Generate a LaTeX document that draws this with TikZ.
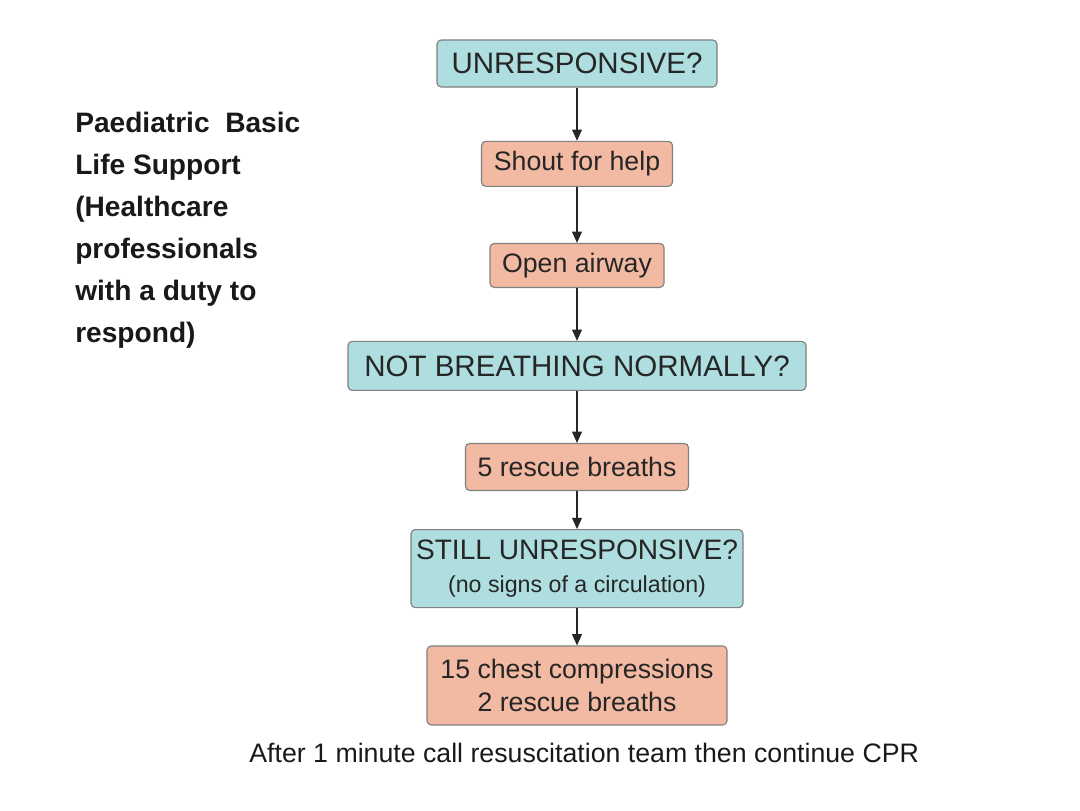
\documentclass[tikz,border=0pt]{standalone}
\usepackage{fontspec}
\setmainfont{Liberation Sans}
\usepackage{tikz}
\usetikzlibrary{arrows.meta, positioning}

\definecolor{qcyan}{HTML}{AEDEDF}
\definecolor{actsalmon}{HTML}{F2BAA2}
\definecolor{edgegray}{HTML}{808080}

\begin{document}
\begin{tikzpicture}[
    % Define styles for the nodes
    base_node/.style={rectangle, draw=edgegray, line width=0.8pt, align=center, rounded corners=3pt, inner sep=0pt, text=black!85},
    question_node/.style={base_node, fill=qcyan, font=\fontsize{21}{25}\selectfont},
    action_node/.style={base_node, fill=actsalmon, font=\fontsize{19}{23}\selectfont},
    note_node/.style={rectangle, inner sep=0pt, text=black!90},
    % Styles for arrows
    arrow/.style={-{Triangle[length=8pt, width=7pt]}, line width=0.8pt, black!85}
]
    % fix the page to the reference proportions
    \useasboundingbox (0,0) rectangle (27,-20.25);

    % =========================================================================
    % TITLE (left)
    % =========================================================================
    \node (title) [note_node, anchor=west, align=left, font=\bfseries\fontsize{20}{29.9}\selectfont] at (1.875,-5.75)
        {Paediatric\ \ Basic\\Life Support\\(Healthcare\\professionals\\with a duty to\\respond)};

    % =========================================================================
    % MAIN FLOW (Vertical)
    % =========================================================================
    \node (unresp) [question_node, minimum width=7cm, minimum height=1.175cm] at (14.425,-1.5875) {UNRESPONSIVE?};

    \node (shout) [action_node, minimum width=4.775cm, minimum height=1.125cm, below=1.33cm of unresp] {Shout for help};
    \draw [arrow] (unresp) -- (shout);

    \node (airway) [action_node, minimum width=4.35cm, minimum height=1.1cm, below=1.4cm of shout] {Open airway};
    \draw [arrow] (shout) -- (airway);

    \node (breathing) [question_node, minimum width=11.45cm, minimum height=1.225cm, below=1.32cm of airway] {NOT BREATHING NORMALLY?};
    \draw [arrow] (airway) -- (breathing);

    \node (breaths) [action_node, minimum width=5.575cm, minimum height=1.175cm, below=1.3cm of breathing] {5 rescue breaths};
    \draw [arrow] (breathing) -- (breaths);

    \node (still) [question_node, minimum width=8.3cm, minimum height=1.95cm, below=0.95cm of breaths, font=\fontsize{20}{23}\selectfont]
        {STILL UNRESPONSIVE?\\{\fontsize{16.5}{22}\selectfont (no signs of a circulation)}};
    \draw [arrow] (breaths) -- (still);

    \node (cpr) [action_node, minimum width=7.5cm, minimum height=1.975cm, below=0.93cm of still]
        {15 chest compressions\\2 rescue breaths};
    \draw [arrow] (still) -- (cpr);

    % footer note
    \node (after) [note_node, font=\fontsize{19}{23}\selectfont, below=0.44cm of cpr, xshift=0.18cm]
        {After 1 minute call resuscitation team then continue CPR};

\end{tikzpicture}
\end{document}
